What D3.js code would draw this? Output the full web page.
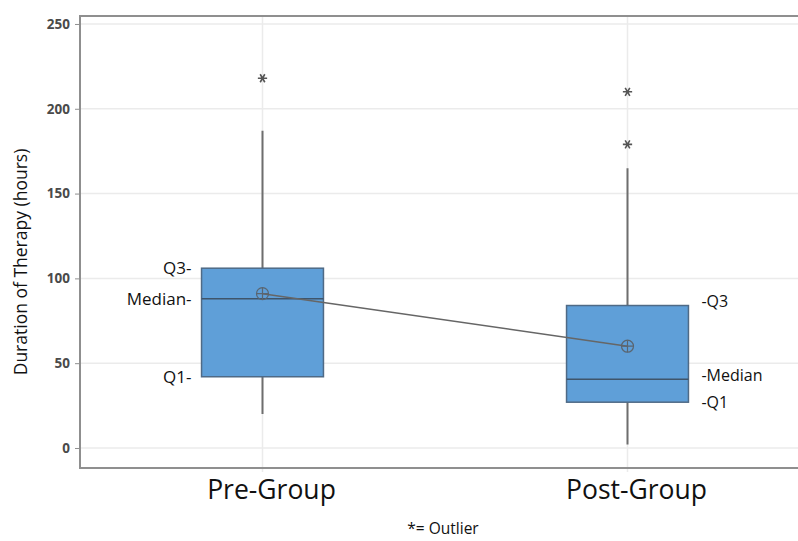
<!DOCTYPE html>
<html>
<head>
<meta charset="utf-8">
<script src="https://cdn.jsdelivr.net/npm/d3@7"></script>
<style>
  body { margin: 0; background: #fff; overflow: hidden; }
  svg { display: block; }
</style>
</head>
<body>
<div id="chart-container"></div>
<script>
// data
const groups = ["Pre-Group", "Post-Group"];
const q1 = [42, 27];
const medians = [88, 40.5];
const q3 = [106, 84];
const whiskerLow = [20, 2];
const whiskerHigh = [187, 165];
const means = [91, 60];
const outliers = [[218], [179, 210]];
const yTicks = [0, 50, 100, 150, 200, 250];

const svgWidth = 798;
const svgHeight = 541;
const margin = { top: 16, right: -12, bottom: 73, left: 80 };

const svg = d3
  .select("#chart-container")
  .append("svg")
  .attr("width", svgWidth)
  .attr("height", svgHeight);

const x = d3
  .scaleBand()
  .domain(groups)
  .range([margin.left, svgWidth - margin.right])
  .padding(0);

const y = d3
  .scaleLinear()
  .domain([-11.8, 254.7])
  .range([svgHeight - margin.bottom, margin.top]);

const cx = (g) => x(g) + x.bandwidth() / 2;
const boxW = x.bandwidth() * 0.334;

const data = groups.map((g, i) => ({
  group: g,
  q1: q1[i],
  median: medians[i],
  q3: q3[i],
  low: whiskerLow[i],
  high: whiskerHigh[i],
  mean: means[i],
  outliers: outliers[i],
}));

// grid lines
svg
  .selectAll(".hgrid")
  .data(yTicks)
  .enter()
  .append("line")
  .attr("x1", margin.left)
  .attr("x2", svgWidth)
  .attr("y1", (d) => y(d))
  .attr("y2", (d) => y(d))
  .attr("stroke", "#ebebeb")
  .attr("stroke-width", 1.5);

svg
  .selectAll(".vgrid")
  .data(groups)
  .enter()
  .append("line")
  .attr("x1", (d) => cx(d))
  .attr("x2", (d) => cx(d))
  .attr("y1", margin.top)
  .attr("y2", svgHeight - margin.bottom + 4)
  .attr("stroke", "#ebebeb")
  .attr("stroke-width", 1.5);

// frame (no right border visible)
svg
  .append("path")
  .attr(
    "d",
    `M${svgWidth + 2},${margin.top}H${margin.left}V${svgHeight - margin.bottom}H${svgWidth + 2}`
  )
  .attr("fill", "none")
  .attr("stroke", "#8f8f8f")
  .attr("stroke-width", 2);

// y axis
const yAxis = svg
  .append("g")
  .attr("transform", `translate(${margin.left - 1},0)`)
  .call(d3.axisLeft(y).tickValues(yTicks).tickSize(4).tickPadding(5));
yAxis.select(".domain").remove();
yAxis.selectAll("line").attr("stroke", "#8f8f8f");
yAxis
  .selectAll("text")
  .attr("font-family", "'Open Sans', sans-serif")
  .attr("font-weight", 700)
  .attr("font-size", "13.5px")
  .attr("fill", "#4a4a4a");

svg
  .append("text")
  .attr("transform", `translate(27,${262}) rotate(-90)`)
  .attr("text-anchor", "middle")
  .attr("font-family", "'Open Sans', sans-serif")
  .attr("font-size", "17.5px")
  .attr("fill", "#111")
  .text("Duration of Therapy (hours)");

// category labels
svg
  .selectAll(".cat")
  .data(groups)
  .enter()
  .append("text")
  .attr("x", (d) => cx(d) + 9)
  .attr("y", 499)
  .attr("text-anchor", "middle")
  .attr("font-family", "'Open Sans', sans-serif")
  .attr("font-size", "26.5px")
  .attr("fill", "#111")
  .text((d) => d);

// whiskers
svg
  .selectAll(".whisker")
  .data(data)
  .enter()
  .append("line")
  .attr("x1", (d) => cx(d.group))
  .attr("x2", (d) => cx(d.group))
  .attr("y1", (d) => y(d.low))
  .attr("y2", (d) => y(d.high))
  .attr("stroke", "#6e6e6e")
  .attr("stroke-width", 2);

// boxes
svg
  .selectAll(".box")
  .data(data)
  .enter()
  .append("rect")
  .attr("x", (d) => cx(d.group) - boxW / 2)
  .attr("y", (d) => y(d.q3))
  .attr("width", boxW)
  .attr("height", (d) => y(d.q1) - y(d.q3))
  .attr("fill", "#5f9fd8")
  .attr("stroke", "#4f6a86")
  .attr("stroke-width", 1.5);

svg
  .selectAll(".median")
  .data(data)
  .enter()
  .append("line")
  .attr("x1", (d) => cx(d.group) - boxW / 2)
  .attr("x2", (d) => cx(d.group) + boxW / 2)
  .attr("y1", (d) => y(d.median))
  .attr("y2", (d) => y(d.median))
  .attr("stroke", "#3f556b")
  .attr("stroke-width", 1.5);

// mean connect line
svg
  .append("path")
  .datum(data)
  .attr(
    "d",
    d3
      .line()
      .x((d) => cx(d.group))
      .y((d) => y(d.mean))
  )
  .attr("fill", "none")
  .attr("stroke", "#666")
  .attr("stroke-width", 1.5);

// mean symbols
const meanG = svg
  .selectAll(".mean")
  .data(data)
  .enter()
  .append("g")
  .attr("transform", (d) => `translate(${cx(d.group)},${y(d.mean)})`);
meanG
  .append("circle")
  .attr("r", 6)
  .attr("fill", "none")
  .attr("stroke", "#5a6570")
  .attr("stroke-width", 1.2);
meanG
  .append("path")
  .attr("d", "M-6,0H6M0,-6V6")
  .attr("stroke", "#5a6570")
  .attr("stroke-width", 1.2);

// outliers
const outlierPts = data.flatMap((d) =>
  d.outliers.map((v) => ({ group: d.group, value: v }))
);
svg
  .selectAll(".outlier")
  .data(outlierPts)
  .enter()
  .append("path")
  .attr("transform", (d) => `translate(${cx(d.group)},${y(d.value)}) rotate(90)`)
  .attr("d", d3.symbol(d3.symbolAsterisk, 60))
  .attr("fill", "none")
  .attr("stroke", "#555")
  .attr("stroke-width", 1.6);

// annotation labels
const pre = data[0];
const post = data[1];
const leftLabels = [
  { text: "Q3-", value: pre.q3, dy: 0 },
  { text: "Median-", value: pre.median, dy: 0 },
  { text: "Q1-", value: pre.q1, dy: 0 },
];
const rightLabels = [
  { text: "-Q3", value: post.q3, dy: -4 },
  { text: "-Median", value: post.median, dy: -4 },
  { text: "-Q1", value: post.q1, dy: 0 },
];

svg
  .selectAll(".lab-left")
  .data(leftLabels)
  .enter()
  .append("text")
  .attr("x", cx(pre.group) - boxW / 2 - 10)
  .attr("y", (d) => y(d.value) + d.dy)
  .attr("dy", "0.35em")
  .attr("text-anchor", "end")
  .attr("font-family", "'Open Sans', sans-serif")
  .attr("font-size", "17px")
  .attr("fill", "#111")
  .text((d) => d.text);

svg
  .selectAll(".lab-right")
  .data(rightLabels)
  .enter()
  .append("text")
  .attr("x", cx(post.group) + boxW / 2 + 13)
  .attr("y", (d) => y(d.value) + d.dy)
  .attr("dy", "0.35em")
  .attr("text-anchor", "start")
  .attr("font-family", "'Open Sans', sans-serif")
  .attr("font-size", "16px")
  .attr("fill", "#111")
  .text((d) => d.text);

// footnote
svg
  .append("text")
  .attr("x", 443)
  .attr("y", 534)
  .attr("text-anchor", "middle")
  .attr("font-family", "'Open Sans', sans-serif")
  .attr("font-size", "15.5px")
  .attr("fill", "#111")
  .text("*= Outlier");
</script>
</body>
</html>
